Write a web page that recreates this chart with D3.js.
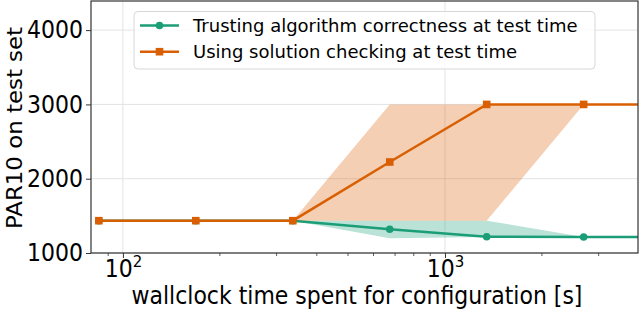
<!DOCTYPE html>
<html>
<head>
<meta charset="utf-8">
<script src="https://cdn.jsdelivr.net/npm/d3@7"></script>
<style>
  body { margin: 0; background: #fff; }
  svg { display: block; font-family: "DejaVu Sans", sans-serif; }
</style>
</head>
<body>
<div id="chart"></div>
<script>
// wallclock budget (s), doubling per step; last one lies past the right edge
const times = [84.2, 168.4, 336.9, 673.8, 1347.5, 2695, 5390];

const trustMean  = [1435, 1435, 1435, 1320, 1218, 1215, 1215];
const trustLow   = [1435, 1435, 1435, 1200, 1215, 1215, 1215];
const trustHigh  = [1435, 1435, 1435, 1435, 1435, 1215, 1215];

const checkMean  = [1435, 1435, 1435, 2225, 3000, 3000, 3000];
const checkLow   = [1435, 1435, 1435, 1435, 1435, 3000, 3000];
const checkHigh  = [1435, 1435, 1435, 3000, 3000, 3000, 3000];

const yTicks = [1000, 2000, 3000, 4000];
const xMajor = [100, 1000];
const xMinor = [90, 200, 300, 400, 500, 600, 700, 800, 900, 2000, 3000];

const series = [
    { name: "Trusting algorithm correctness at test time", color: "#1b9e77", shape: "circle",
      mean: trustMean, low: trustLow, high: trustHigh },
    { name: "Using solution checking at test time", color: "#d95f02", shape: "square",
      mean: checkMean, low: checkLow, high: checkHigh }
];

const W = 640, H = 310;
const margin = { top: 1, right: 2, bottom: 57, left: 91 };
const width = W - margin.left - margin.right;
const height = H - margin.top - margin.bottom;

const svg = d3.select("#chart").append("svg")
    .attr("width", W)
    .attr("height", H);

const x = d3.scaleLog().domain([79.6, 3975]).range([0, width]);
const y = d3.scaleLinear().domain([1000, 4392]).range([height, 0]);

const g = svg.append("g").attr("transform", `translate(${margin.left},${margin.top})`);

svg.append("defs").append("clipPath").attr("id", "clip")
    .append("rect").attr("width", width).attr("height", height);

// grid
g.append("g").selectAll("line").data(yTicks).join("line")
    .attr("x1", 0).attr("x2", width)
    .attr("y1", d => y(d)).attr("y2", d => y(d))
    .attr("stroke", "#e3e3e3").attr("stroke-width", 1);
g.append("g").selectAll("line").data(xMajor).join("line")
    .attr("y1", 0).attr("y2", height)
    .attr("x1", d => x(d)).attr("x2", d => x(d))
    .attr("stroke", "#e3e3e3").attr("stroke-width", 1);

const plot = g.append("g").attr("clip-path", "url(#clip)");

series.forEach(s => {
    const pts = times.map((t, i) => ({ t, m: s.mean[i], lo: s.low[i], hi: s.high[i] }));

    plot.append("path")
        .datum(pts)
        .attr("d", d3.area().x(d => x(d.t)).y0(d => y(d.lo)).y1(d => y(d.hi)))
        .attr("fill", s.color)
        .attr("fill-opacity", 0.3);

    plot.append("path")
        .datum(pts)
        .attr("d", d3.line().x(d => x(d.t)).y(d => y(d.m)))
        .attr("fill", "none")
        .attr("stroke", s.color)
        .attr("stroke-width", 2.5);

    const marks = plot.append("g").attr("fill", s.color);
    if (s.shape === "circle") {
        marks.selectAll("circle").data(pts).join("circle")
            .attr("cx", d => x(d.t)).attr("cy", d => y(d.m)).attr("r", 3.8);
    } else {
        marks.selectAll("rect").data(pts).join("rect")
            .attr("x", d => x(d.t) - 3.8).attr("y", d => y(d.m) - 3.8)
            .attr("width", 7.6).attr("height", 7.6);
    }
});

// axes (text is a bit taller than wide in the original, hence scale(1,1.1))
const yAxis = g.append("g")
    .call(d3.axisLeft(y).tickValues(yTicks).tickSize(5).tickPadding(3).tickFormat(d3.format("d")));
yAxis.select(".domain").remove();
yAxis.selectAll("line").attr("stroke", "#333");
yAxis.selectAll("text").attr("font-size", 22).attr("font-family", "DejaVu Sans").attr("fill", "#000")
    .attr("transform", "scale(1,1.1)");

const xAxis = g.append("g").attr("transform", `translate(0,${height})`)
    .call(d3.axisBottom(x).tickValues(xMajor).tickSize(5).tickPadding(4).tickFormat(""));
xAxis.select(".domain").remove();
xAxis.selectAll("line").attr("stroke", "#333");
xAxis.selectAll(".tick").append("text")
    .attr("y", 22).attr("text-anchor", "middle")
    .attr("transform", "scale(1,1.1)")
    .attr("font-size", 22).attr("font-family", "DejaVu Sans").attr("fill", "#000")
    .each(function (d) {
        const t = d3.select(this);
        t.append("tspan").text("10");
        t.append("tspan").attr("font-size", 15).attr("dy", -9).text(Math.round(Math.log10(d)));
    });

g.append("g").attr("transform", `translate(0,${height})`)
    .selectAll("line").data(xMinor).join("line")
    .attr("x1", d => x(d)).attr("x2", d => x(d))
    .attr("y1", 0).attr("y2", 3)
    .attr("stroke", "#333").attr("stroke-width", 0.8);

// frame
g.append("rect")
    .attr("width", width).attr("height", height)
    .attr("fill", "none").attr("stroke", "#333").attr("stroke-width", 1.2);

// axis labels
svg.append("text")
    .attr("transform", "translate(357,303.5) scale(1,1.1)")
    .attr("text-anchor", "middle").attr("font-size", 22)
    .text("wallclock time spent for configuration [s]");

svg.append("text")
    .attr("transform", "translate(22,128) rotate(-90) scale(1.04,1)")
    .attr("text-anchor", "middle").attr("font-size", 22)
    .text("PAR10 on test set");

// legend
const legend = svg.append("g").attr("transform", "translate(134,11.5)");
legend.append("rect")
    .attr("width", 461).attr("height", 57.5).attr("rx", 4)
    .attr("fill", "#fff").attr("fill-opacity", 0.8)
    .attr("stroke", "#d8d8d8").attr("stroke-width", 1);

series.forEach((s, i) => {
    const row = legend.append("g").attr("transform", `translate(0,${14 + i * 26.2})`);
    row.append("line").attr("x1", 6).attr("x2", 45)
        .attr("stroke", s.color).attr("stroke-width", 2.5);
    if (s.shape === "circle") {
        row.append("circle").attr("cx", 25.5).attr("r", 3.8).attr("fill", s.color);
    } else {
        row.append("rect").attr("x", 21.7).attr("y", -3.8).attr("width", 7.6).attr("height", 7.6)
            .attr("fill", s.color);
    }
    row.append("text").attr("x", 59).attr("dy", "0.35em")
        .attr("font-size", 18).attr("fill", "#000")
        .text(s.name);
});
</script>
</body>
</html>
